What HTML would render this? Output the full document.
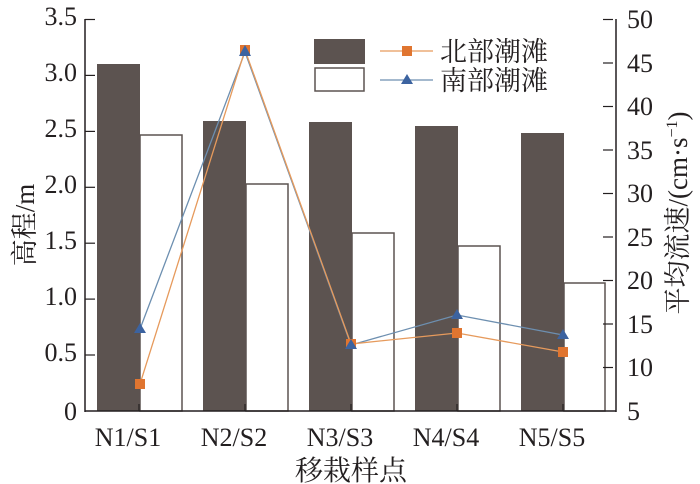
<!DOCTYPE html>
<html><head><meta charset="utf-8"><style>
html,body{margin:0;padding:0;background:#fff;}
svg{display:block;}
text{font-family:"Liberation Serif","Noto Serif CJK SC",serif;fill:#231f20;}
.cj{font-family:"Liberation Serif","Noto Serif CJK SC",serif;}
</style></head><body>
<svg width="700" height="484" viewBox="0 0 700 484" xmlns="http://www.w3.org/2000/svg">
<g fill="#5c5350">
<rect x="97" y="64" width="43" height="347"/>
<rect x="203" y="121" width="43" height="290"/>
<rect x="309" y="122" width="43" height="289"/>
<rect x="415" y="126" width="43" height="285"/>
<rect x="521" y="133" width="43" height="278"/>
</g>
<g fill="#fff" stroke="#5c5350" stroke-width="1.5">
<rect x="140" y="135" width="42" height="276"/>
<rect x="246" y="184" width="42" height="227"/>
<rect x="352" y="233" width="42" height="178"/>
<rect x="458" y="246" width="42" height="165"/>
<rect x="564" y="283" width="41" height="128"/>
</g>
<g stroke="#231f20" stroke-width="1.5" fill="none">
<line x1="85" y1="19" x2="85" y2="412"/>
<line x1="85" y1="411" x2="616" y2="411"/>
<line x1="616" y1="19" x2="616" y2="412"/>
</g>
<g stroke="#231f20" stroke-width="1.2">
<line x1="85" y1="19.5" x2="95" y2="19.5"/><line x1="85" y1="75.4" x2="95" y2="75.4"/>
<line x1="85" y1="131.4" x2="95" y2="131.4"/><line x1="85" y1="187.3" x2="95" y2="187.3"/>
<line x1="85" y1="243.2" x2="95" y2="243.2"/><line x1="85" y1="299.1" x2="95" y2="299.1"/>
<line x1="85" y1="355" x2="95" y2="355"/>
<line x1="603" y1="19.5" x2="613" y2="19.5"/><line x1="603" y1="63" x2="613" y2="63"/>
<line x1="603" y1="106.5" x2="613" y2="106.5"/><line x1="603" y1="150" x2="613" y2="150"/>
<line x1="603" y1="193.5" x2="613" y2="193.5"/><line x1="603" y1="237" x2="613" y2="237"/>
<line x1="603" y1="280.5" x2="613" y2="280.5"/><line x1="603" y1="324" x2="613" y2="324"/>
<line x1="603" y1="367.5" x2="613" y2="367.5"/>
<line x1="139" y1="404" x2="139" y2="411"/><line x1="245" y1="404" x2="245" y2="411"/>
<line x1="351" y1="404" x2="351" y2="411"/><line x1="457" y1="404" x2="457" y2="411"/>
<line x1="563" y1="404" x2="563" y2="411"/>
</g>
<g font-size="26" text-anchor="end">
<text x="77" y="25">3.5</text><text x="77" y="81">3.0</text><text x="77" y="137">2.5</text>
<text x="77" y="193">2.0</text><text x="77" y="249">1.5</text><text x="77" y="305">1.0</text>
<text x="77" y="361">0.5</text><text x="77" y="420">0</text>
</g>
<g font-size="26">
<text x="627" y="28">50</text><text x="627" y="72">45</text><text x="627" y="115">40</text>
<text x="627" y="159">35</text><text x="627" y="202">30</text><text x="627" y="246">25</text>
<text x="627" y="289">20</text><text x="627" y="333">15</text><text x="627" y="376">10</text>
<text x="627" y="420">5</text>
</g>
<g font-size="26" text-anchor="middle">
<text x="128" y="446">N1/S1</text><text x="234" y="446">N2/S2</text><text x="340" y="446">N3/S3</text>
<text x="446" y="446">N4/S4</text><text x="552" y="446">N5/S5</text>
</g>
<text class="cj" x="351" y="480" font-size="28" text-anchor="middle">移栽样点</text>
<text class="cj" x="0" y="0" font-size="27" text-anchor="middle" transform="translate(34,225) rotate(-90)">高程/m</text>
<text class="cj" x="0" y="0" font-size="27" text-anchor="middle" transform="translate(687,213) rotate(-90)">平均流速/(cm·s<tspan font-size="16" dy="-10">−1</tspan><tspan dy="10">)</tspan></text>
<polyline points="140,329 245,52 351,345 457,315 563,335" fill="none" stroke="#6d8fb0" stroke-width="1.3"/>
<polyline points="140,384 245,50 351,344 457,333 563,352" fill="none" stroke="#e69a5c" stroke-width="1.3"/>
<g fill="#e07530">
<rect x="135" y="379" width="10" height="10"/><rect x="240" y="45" width="10" height="10"/>
<rect x="346" y="339" width="10" height="10"/><rect x="452" y="328" width="10" height="10"/>
<rect x="558" y="347" width="10" height="10"/>
</g>
<g fill="#3c63a0">
<polygon points="140,323 134,333 146,333"/><polygon points="245,45 239,56 251,56"/>
<polygon points="351,339 345,349 357,349"/><polygon points="457,309 451,319 463,319"/>
<polygon points="563,329 557,339 569,339"/>
</g>
<rect x="314" y="39" width="51" height="25" fill="#5c5350"/>
<rect x="315" y="68" width="49" height="23" fill="#fff" stroke="#5c5350" stroke-width="1.5"/>
<line x1="380" y1="51" x2="433" y2="51" stroke="#e69a5c" stroke-width="1.3"/>
<rect x="402" y="46" width="10" height="10" fill="#e07530"/>
<line x1="380" y1="80" x2="433" y2="80" stroke="#6d8fb0" stroke-width="1.3"/>
<polygon points="407,74 401,84 413,84" fill="#3c63a0"/>
<text class="cj" x="440" y="61" font-size="27">北部潮滩</text>
<text class="cj" x="440" y="90" font-size="27">南部潮滩</text>
</svg>
</body></html>
